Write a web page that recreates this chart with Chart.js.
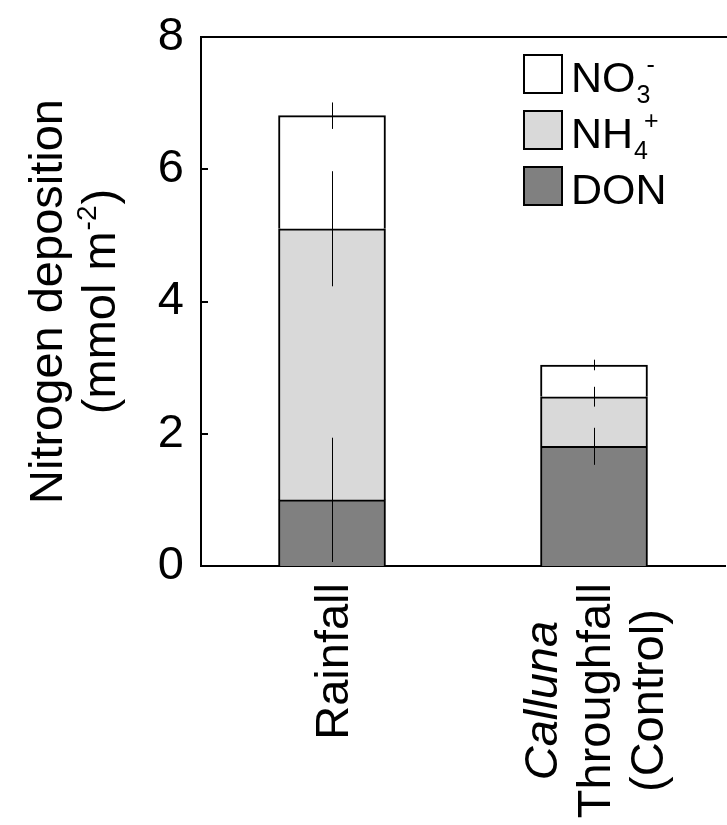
<!DOCTYPE html>
<html>
<head>
<meta charset="utf-8">
<title>Nitrogen deposition</title>
<script src="https://cdn.jsdelivr.net/npm/chart.js@4"></script>
<style>
  body { margin: 0; background: #fff; }
  canvas { display: block; }
</style>
</head>
<body>
<canvas id="grafico" width="727" height="825"></canvas>
<script>
// values (mmol m-2)
const categorias = [["Rainfall"], ["Calluna", "Throughfall", "(Control)"]];
const donValores = [1.0, 1.81];
const nh4Valores = [4.1, 0.75];
const no3Valores = [1.71, 0.48];
const donError = [0.94, 0.28];
const nh4Error = [0.87, 0.15];
const no3Error = [0.2, 0.08];
const ticksY = [0, 2, 4, 6, 8];

const FUENTE = '"Liberation Sans", Arial, sans-serif';
const cursiva = ["Calluna"];

// legend text pieces: base, subscript, superscript (top entry first)
const leyenda = [
    { base: "NO", sub: "3", sup: "-", color: "#ffffff" },
    { base: "NH", sub: "4", sup: "+", color: "#d9d9d9" },
    { base: "DON", sub: "", sup: "", color: "#808080" }
];
const tituloY = ["Nitrogen deposition", ["(mmol m", "-2", ")"]];

const extras = {
    id: "extras",
    afterDatasetsDraw(chart) {
        const ctx = chart.ctx;
        const y = chart.scales.y;
        const series = [[donValores, donError], [nh4Valores, nh4Error], [no3Valores, no3Error]];
        ctx.save();
        ctx.strokeStyle = "#000";
        ctx.lineWidth = 1;
        chart.getDatasetMeta(0).data.forEach((bar, i) => {
            let tope = 0;
            const x = Math.round(bar.x) + 0.5;
            series.forEach(([vals, errs]) => {
                tope += vals[i];
                ctx.beginPath();
                ctx.moveTo(x, y.getPixelForValue(tope - errs[i]));
                ctx.lineTo(x, y.getPixelForValue(tope + errs[i]));
                ctx.stroke();
            });
        });
        ctx.restore();
    },
    afterDraw(chart) {
        const ctx = chart.ctx;
        const area = chart.chartArea;
        const y = chart.scales.y;
        const xs = chart.scales.x;
        ctx.save();

        // top frame line and inward ticks
        ctx.strokeStyle = "#000";
        ctx.lineWidth = 2;
        ctx.beginPath();
        ctx.moveTo(area.left - 1, area.top);
        ctx.lineTo(area.right + 5, area.top);
        ctx.stroke();
        ticksY.forEach(v => {
            const py = Math.round(y.getPixelForValue(v));
            ctx.beginPath();
            ctx.moveTo(area.left, py);
            ctx.lineTo(area.left + 7, py);
            ctx.stroke();
        });

        // x category labels, rotated, lines centred in their block
        ctx.fillStyle = "#000";
        ctx.textAlign = "center";
        ctx.textBaseline = "alphabetic";
        categorias.forEach((lineas, i) => {
            const cx = xs.getPixelForValue(i);
            const fuentes = lineas.map(t => (cursiva.includes(t) ? "italic " : "") + "47px " + FUENTE);
            const anchos = lineas.map((t, j) => { ctx.font = fuentes[j]; return ctx.measureText(t).width; });
            const medio = area.bottom + 17 + Math.max(...anchos) / 2;
            lineas.forEach((txt, j) => {
                const bx = cx + 16 + (j - (lineas.length - 1) / 2) * 53;
                ctx.save();
                ctx.translate(bx, medio);
                ctx.rotate(-Math.PI / 2);
                ctx.font = fuentes[j];
                ctx.fillText(txt, 0, 0);
                ctx.restore();
            });
        });

        // y axis title
        const cy = (area.top + area.bottom) / 2;
        ctx.textAlign = "center";
        ctx.font = "47px " + FUENTE;
        ctx.save();
        ctx.translate(62, cy);
        ctx.rotate(-Math.PI / 2);
        ctx.fillText(tituloY[0], 0, 0);
        ctx.restore();

        const [p1, p2, p3] = tituloY[1];
        ctx.textAlign = "left";
        ctx.font = "47px " + FUENTE;
        const w1 = ctx.measureText(p1).width;
        const w3 = ctx.measureText(p3).width;
        ctx.font = "28px " + FUENTE;
        const w2 = ctx.measureText(p2).width;
        const total = w1 + w2 + w3 + 2;
        ctx.save();
        ctx.translate(115, cy);
        ctx.rotate(-Math.PI / 2);
        ctx.font = "47px " + FUENTE;
        ctx.fillText(p1, -total / 2, 0);
        ctx.font = "28px " + FUENTE;
        ctx.fillText(p2, -total / 2 + w1 + 1, -19);
        ctx.font = "47px " + FUENTE;
        ctx.fillText(p3, -total / 2 + w1 + w2 + 2, 0);
        ctx.restore();

        // legend
        leyenda.forEach((it, k) => {
            const top = 55 + k * 56;
            ctx.fillStyle = it.color;
            ctx.fillRect(524, top, 38, 38);
            ctx.strokeStyle = "#000";
            ctx.lineWidth = 2;
            ctx.strokeRect(524, top, 38, 38);
            ctx.fillStyle = "#000";
            ctx.textAlign = "left";
            ctx.font = "43px " + FUENTE;
            const base = top + 37;
            ctx.fillText(it.base, 571, base);
            const wb = ctx.measureText(it.base).width;
            ctx.font = "25px " + FUENTE;
            if (it.sub) ctx.fillText(it.sub, 571 + wb + 1, base + 11);
            if (it.sup) ctx.fillText(it.sup, 571 + wb + 11, base - 19);
        });
        ctx.restore();
    }
};

new Chart(document.getElementById("grafico"), {
    type: "bar",
    data: {
        labels: categorias.map(c => c.join(" ")),
        datasets: [
            { label: "DON", data: donValores, backgroundColor: "#808080" },
            { label: "NH4+", data: nh4Valores, backgroundColor: "#d9d9d9" },
            { label: "NO3-", data: no3Valores, backgroundColor: "#ffffff" }
        ].map(d => Object.assign(d, { borderColor: "#000", borderWidth: 2, barThickness: 107 }))
    },
    options: {
        responsive: false,
        animation: false,
        layout: { padding: { top: 37, right: 2, bottom: 0, left: 0 } },
        plugins: { legend: { display: false }, tooltip: { enabled: false } },
        scales: {
            x: {
                stacked: true,
                grid: { display: false, drawTicks: false },
                border: { display: true, color: "#000", width: 2 },
                ticks: { display: false },
                afterFit: s => { s.height = 259; s.paddingLeft = 0; s.paddingRight = 0; }
            },
            y: {
                stacked: true,
                min: 0,
                max: 8,
                afterBuildTicks: s => { s.ticks = ticksY.map(v => ({ value: v })); },
                grid: { display: false, drawTicks: false },
                border: { display: true, color: "#000", width: 2 },
                ticks: { color: "#000", padding: 17, font: { family: FUENTE, size: 47 } },
                afterFit: s => { s.width = 201; s.paddingTop = 0; s.paddingBottom = 0; }
            }
        }
    },
    plugins: [extras]
});
</script>
</body>
</html>
